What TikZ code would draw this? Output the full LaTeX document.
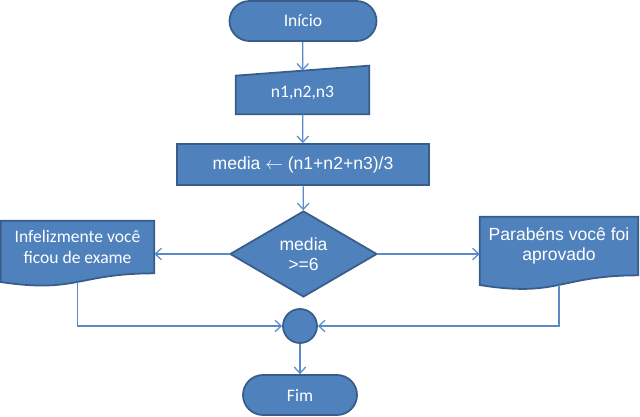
\documentclass[tikz,border=0pt]{standalone}
\usepackage{fontspec}
\setmainfont{Carlito}
\newfontfamily\arialfont{Liberation Sans}
\usetikzlibrary{shapes.geometric,arrows.meta,calc,backgrounds}

\definecolor{boxfill}{HTML}{4F81BD}
\definecolor{boxedge}{HTML}{385D8A}
\definecolor{linkcol}{HTML}{5A8ACB}

\tikzset{
  box/.style={fill=boxfill, draw=boxedge, line width=1pt},
  txt/.style={text=white, font=\fontsize{10}{11.5}\selectfont, align=center},
  terminal/.style={box, txt, rectangle, rounded corners=0.4cm,
    minimum height=0.8cm},
  link/.style={draw=linkcol, line width=0.7pt},
}

% document shape drawn round a node (straight part = node box)
\newcommand{\docshape}[1]{%
  \path[box] (#1.north west) -- (#1.north east) -- (#1.south east)
    .. controls (#1.south) and ($(#1.north)!1.381!(#1.south)$)
    .. ($(#1.north west)!1.165!(#1.south west)$) -- cycle;}

\begin{document}
\begin{tikzpicture}[>={Straight Barb[length=3.5pt,width=6.5pt]}]
\useasboundingbox (0,0) rectangle (12.8,-8.32);

\node[terminal, minimum width=2.94cm] (start) at (6.06,-0.42) {Início};

\node[txt, minimum width=2.66cm, minimum height=0.86cm, inner sep=0pt]
  (input) at (6.05,-1.85) {n1,n2,n3};
\node[box, txt, minimum width=5.04cm, minimum height=0.82cm,
  font=\arialfont\fontsize{10}{11.5}\selectfont] (calc) at (6.06,-3.29)
  {media $\leftarrow$ (n1+n2+n3)/3};
\node[box, txt, diamond, minimum width=2.94cm, minimum height=1.72cm,
  inner sep=0pt, font=\arialfont\fontsize{10}{11.5}\selectfont]
  (test) at (6.07,-5.08) {media\\>=6};

\node[txt, minimum width=3.06cm, minimum height=1.04cm, inner sep=0pt]
  (fail) at (1.55,-4.94) {Infelizmente você\\ficou de exame};
\node[txt, minimum width=3.16cm, minimum height=1.16cm, inner sep=0pt,
  font=\arialfont\fontsize{10}{11.5}\selectfont]
  (pass) at (11.18,-4.92) {Parabéns você foi\\aprovado};

\node[box, circle, minimum size=0.68cm, inner sep=0pt] (join) at (6.0,-6.52) {};
\node[terminal, minimum width=2.28cm] (stop) at (6.0,-7.9) {Fim};

\begin{scope}[on background layer]
  \path[box] ($(input.north west)+(0,-0.1)$) -- ($(input.north east)+(0,0.1)$)
    -- (input.south east) -- (input.south west) -- cycle;
  \docshape{fail}
  \docshape{pass}
\end{scope}

\coordinate (failout) at ($(fail.north)!1.163!(fail.south)$);
\coordinate (passout) at ($(pass.north)!1.163!(pass.south)$);

\draw[link,->] (start) -- (input);
\draw[link,->] (input) -- (calc);
\draw[link,->] (calc) -- (test);
\draw[link,->] (test.west) -- (test.west -| fail.east);
\draw[link,->] (test.east) -- (test.east -| pass.west);
\draw[link,->] (failout) |- (join);
\draw[link,->] (passout) |- (join);
\draw[link,->] (join) -- (stop);

\end{tikzpicture}
\end{document}
